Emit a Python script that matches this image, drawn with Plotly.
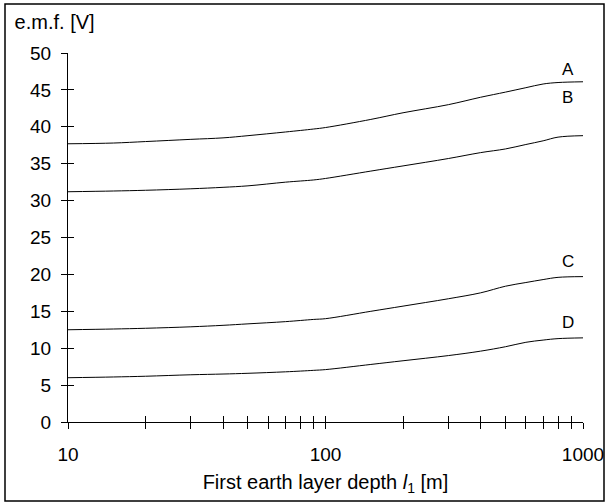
import plotly.graph_objects as go

# Depth of first earth layer l1 [m]
depth = [10, 15, 20, 30, 40, 50, 70, 90, 100, 150, 200, 300, 400, 500, 600, 700, 800, 1000]
# e.m.f. [V] for curves A..D
emf_A = [37.7, 37.8, 38.0, 38.3, 38.5, 38.8, 39.3, 39.7, 39.9, 41.0, 41.9, 43.0, 44.0, 44.7, 45.3, 45.8, 46.0, 46.1]
emf_B = [31.2, 31.3, 31.4, 31.6, 31.8, 32.0, 32.5, 32.8, 33.0, 34.0, 34.7, 35.7, 36.5, 37.0, 37.6, 38.1, 38.6, 38.8]
emf_C = [12.5, 12.6, 12.7, 12.9, 13.1, 13.3, 13.6, 13.9, 14.0, 15.0, 15.7, 16.7, 17.5, 18.4, 18.9, 19.3, 19.6, 19.7]
emf_D = [6.0, 6.1, 6.2, 6.4, 6.5, 6.6, 6.8, 7.0, 7.1, 7.8, 8.3, 9.0, 9.6, 10.2, 10.8, 11.1, 11.3, 11.4]
series = [("A", emf_A, 47.7), ("B", emf_B, 44.0), ("C", emf_C, 21.7), ("D", emf_D, 13.5)]

x_tickvals = [10, 20, 30, 40, 50, 60, 70, 80, 90, 100, 200, 300, 400, 500, 600, 700, 800, 900, 1000]
x_ticktext = [str(v) if v in (10, 100, 1000) else "" for v in x_tickvals]
y_tickvals = [0, 5, 10, 15, 20, 25, 30, 35, 40, 45, 50]

font = "Liberation Sans, Arial, sans-serif"
FS = 20
TFS = 19
L, R, T, B = 68, 25, 53, 82
PW, PH = 608 - L - R, 504 - T - B

fig = go.Figure()
for name, vals, lab_y in series:
    fig.add_trace(go.Scatter(x=depth, y=vals, mode="lines", name=name,
                             line=dict(color="black", width=1, shape="spline"),
                             showlegend=False))
    fig.add_annotation(x=2.94, y=lab_y, xref="x", yref="y", text=name,
                       showarrow=False, font=dict(size=17, color="black", family=font))

# invisible trace on overlay axes to carry inside ticks
fig.add_trace(go.Scatter(x=[10], y=[0], xaxis="x2", yaxis="y2", mode="markers",
                         marker=dict(opacity=0), showlegend=False, hoverinfo="skip"))

fig.update_layout(
    width=608, height=504, autosize=False,
    paper_bgcolor="white", plot_bgcolor="white",
    margin=dict(l=L, r=R, t=T, b=B, autoexpand=False),
    font=dict(family=font, size=FS, color="black"),
    title=dict(text="e.m.f. [V]", x=0.024, xanchor="left", y=0.956, yanchor="middle",
               font=dict(size=FS, family=font, color="black")),
    xaxis=dict(type="log", range=[1, 3], tickvals=x_tickvals, ticktext=x_ticktext,
               ticks="outside", ticklen=6, tickcolor="black", tickwidth=1,
               showline=True, linecolor="black", linewidth=1, showgrid=False,
               zeroline=False, ticklabelstandoff=9, automargin=False,
               ticklabeloverflow="allow", tickfont=dict(size=TFS),
               title=dict(text="First earth layer depth <i>l</i><sub>1</sub> [m]",
                          standoff=11, font=dict(size=FS))),
    yaxis=dict(range=[0, 50], tickvals=y_tickvals, ticks="outside", ticklen=6,
               tickcolor="black", tickwidth=1, showline=True, linecolor="black",
               linewidth=1, showgrid=False, zeroline=False, ticklabelstandoff=6,
               automargin=False, tickfont=dict(size=TFS)),
    xaxis2=dict(type="log", range=[1, 3], overlaying="x", tickvals=x_tickvals,
                showticklabels=False, ticks="inside", ticklen=6, tickcolor="black",
                showgrid=False, zeroline=False, showline=False, automargin=False),
    yaxis2=dict(range=[0, 50], overlaying="y", tickvals=y_tickvals,
                showticklabels=False, ticks="inside", ticklen=6, tickcolor="black",
                showgrid=False, zeroline=False, showline=False, automargin=False),
    shapes=[dict(type="rect", xref="paper", yref="paper",
                 x0=-63 / PW, x1=1 + 21 / PW, y0=-79 / PH, y1=1 + 49 / PH,
                 line=dict(color="black", width=1.5), layer="above")],
)

fig.write_html("out.html", config={"displayModeBar": False, "responsive": False},
               post_script="document.body.style.margin='0';document.documentElement.style.overflow='hidden';")
